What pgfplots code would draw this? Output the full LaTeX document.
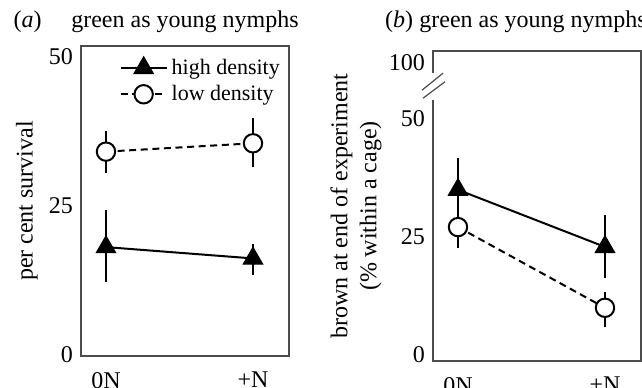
\documentclass[border=0pt]{standalone}
\usepackage{fontspec}
\setmainfont{Liberation Serif}
\usepackage{pgfplots}
\usepackage{pgfplotstable}
\pgfplotsset{compat=1.18}

\pgfplotstableread{
x y ep em
0 18.0 6.2 5.9
1 16.1 2.5 2.8
}\ahigh
\pgfplotstableread{
x y ep em
0 34.0 3.4 3.5
1 35.4 4.2 4.0
}\alow
\pgfplotstableread{
x y ep em
0 35.0 6.7 6.7
1 22.9 6.8 6.6
}\bhigh
\pgfplotstableread{
x y ep em
0 27.1 4.5 4.4
1 10.0 3.3 4.1
}\blow

\pgfplotsset{
  panel/.style={
    scale only axis, width=104pt, height=155pt,
    xmin=-0.17, xmax=1.245,
    xtick={0,1}, xticklabels={0N,+N},
    major tick length=0pt,
    axis line style={draw=black!70, line width=0.7pt},
    xticklabel style={yshift=-4.5pt},
    yticklabel style={xshift=-0.5pt},
    /pgf/number format/assume math mode=true,
    clip=false,
    every axis title shift=0pt,
    title style={at={(axis description cs:0.5,1)}, anchor=base},
  },
  ebars/.style={
    line width=1pt, black,
    error bars/y dir=both, error bars/y explicit, error bars/error mark=none,
    error bars/error bar style={line width=1pt, solid, black},
  },
  hiplot/.style={ebars, solid, mark=triangle*, mark size=5.6pt,
    mark options={solid, fill=black, line width=0.5pt}},
  loplot/.style={ebars, dash pattern=on 3.5pt off 2.3pt, mark=*, mark size=4.6pt,
    mark options={solid, draw=black, fill=white, line width=1pt}},
}

\begin{document}
\begin{tikzpicture}[font=\fontsize{12}{14.5}\selectfont]
\useasboundingbox (-40.5pt,-15.5pt) rectangle (280.5pt,178pt);

\begin{axis}[panel,
  ymin=-0.25, ymax=51.7, ytick={0,25,50},
  ylabel={per cent survival},
  ylabel style={at={(axis description cs:-0.26,0.5)}, anchor=center},
  title={green as young nymphs},
  title style={yshift=9.5pt},
  legend style={at={(axis description cs:0.184,0.89)}, anchor=west,
    draw=none, fill=none, inner sep=0pt, row sep=4pt, column sep=2pt,
    font=\fontsize{11}{13}\selectfont,
    nodes={inner sep=0pt, anchor=west}},
  legend cell align=left,
  legend image code/.code={\draw[mark repeat=2, mark phase=2, #1]
    plot coordinates {(0pt,0pt) (11.5pt,0pt) (23pt,0pt)};},
]
\addplot[hiplot] table[x=x, y=y, y error plus=ep, y error minus=em] {\ahigh};
\addlegendentry{high density}
\addplot[loplot] table[x=x, y=y, y error plus=ep, y error minus=em] {\alow};
\addlegendentry{low density}
\node[anchor=base] at ([yshift=9.5pt]axis description cs:-0.257,1) {(\textit{a})};
\end{axis}

\begin{axis}[panel, at={(176pt,-2.5pt)}, anchor=south west,
  ymin=-1.27, ymax=64.4, ytick={0,25,50,62}, yticklabels={0,25,50,100},
  ylabel={brown at end of experiment\\(\% within a cage)},
  ylabel style={at={(axis description cs:-0.37,0.5)}, anchor=center, align=center},
  title={green as young nymphs},
  title style={yshift=12pt, xshift=-2pt},
]
\addplot[hiplot] table[x=x, y=y, y error plus=ep, y error minus=em] {\bhigh};
\addplot[loplot] table[x=x, y=y, y error plus=ep, y error minus=em] {\blow};
\node[anchor=base] at ([yshift=12pt]axis description cs:-0.163,1) {(\textit{b})};
\coordinate (gapA) at (axis cs:-0.17,54.0);
\coordinate (gapB) at (axis cs:-0.17,59.7);
\coordinate (s1a) at (axis cs:-0.17,56.1);
\coordinate (s1b) at (axis cs:-0.17,59.7);
\coordinate (s2a) at (axis cs:-0.17,54.4);
\coordinate (s2b) at (axis cs:-0.17,57.9);
\end{axis}
\draw[white, line width=2.5pt] (gapA) -- (gapB);
\draw[black!70, line width=0.6pt] ([xshift=-5.5pt]s1a) -- ([xshift=5pt]s1b);
\draw[black!70, line width=0.6pt] ([xshift=-5pt]s2a) -- ([xshift=6pt]s2b);
\end{tikzpicture}
\end{document}
